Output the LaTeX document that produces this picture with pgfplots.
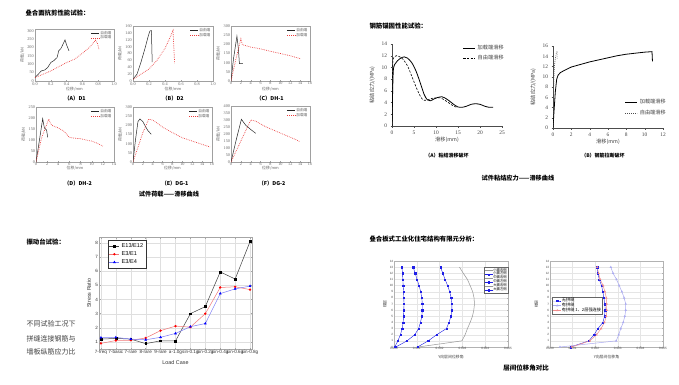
\documentclass[border=0pt]{standalone}
\usepackage{fontspec}
\setmainfont{Liberation Serif}
\setsansfont{Liberation Sans}
\newfontfamily\cjk{Noto Sans CJK SC}
\usepackage{pgfplots}
\pgfplotsset{compat=1.18}
\definecolor{redd}{RGB}{235,60,60}
\definecolor{axgray}{RGB}{160,160,160}
\definecolor{txtgray}{RGB}{100,100,100}
\definecolor{bblue}{RGB}{30,30,230}
\definecolor{lred}{RGB}{240,120,120}
\definecolor{lblue}{RGB}{120,120,245}
\definecolor{lav}{RGB}{170,170,240}
\definecolor{pinky}{RGB}{240,140,140}
\definecolor{gline}{RGB}{150,150,150}
\newcommand{\fs}[1]{\fontsize{#1}{#1}\selectfont}
\pgfplotsset{
  /pgf/number format/assume math mode=true,
  every axis/.append style={scale only axis, anchor=north west},
  smallc/.style={
    width=79pt, height=55pt, xmin=0, ymin=0,
    axis line style={axgray, line width=0.4pt},
    every tick/.style={axgray, line width=0.3pt},
    major tick length=1.2pt,
    xtick pos=left, ytick pos=left,
    tick label style={font=\fs{4.2}, text=txtgray, inner sep=0.8pt},
    xlabel={位移/mm}, ylabel={荷载/kN},
    label style={font=\cjk\fs{3.9}, text=txtgray},
    xlabel style={at={(axis description cs:0.5,-0.15)}, anchor=center},
    ylabel style={at={(axis description cs:-0.16,0.5)}, anchor=center},
    legend style={draw=none, fill=none, font=\cjk\fs{3.7}, text=txtgray,
      at={(0.98,0.98)}, anchor=north east, inner sep=0.3pt,
      nodes={inner sep=0.5pt}, row sep=-0.8pt},
    legend cell align=left,
    legend image code/.code={\draw[##1] (0pt,0pt) -- (8pt,0pt);},
  },
  blk/.style={black!85, line width=0.5pt},
  rdd/.style={redd, dash pattern=on 0.7pt off 1.1pt, line width=0.7pt},
  trc/.style={
    width=110pt, height=82pt, xmin=0, ymin=0,
    axis x line*=bottom, axis y line*=left,
    axis line style={black!70, line width=0.4pt, -},
    tick align=outside, major tick length=1.5pt,
    every tick/.style={black!70, line width=0.3pt},
    tick label style={font=\fs{5.4}, text=black!75},
    xlabel={滑移(mm)}, ylabel={粘结应力/(MPa)},
    label style={font=\cjk\fs{5.2}, text=black!75},
    xlabel style={at={(axis description cs:0.5,-0.17)}, anchor=center},
    ylabel style={at={(axis description cs:-0.18,0.5)}, anchor=center},
    legend style={draw=none, fill=none, font=\cjk\fs{5.2}, text=black!75,
      inner sep=0.5pt, row sep=0.5pt},
    legend cell align=left,
    legend image code/.code={\draw[##1] (0pt,0pt) -- (12pt,0pt);},
  },
  brc/.style={
    width=114pt, height=86pt,
    xmin=0, xmax=0.005, ymin=0, ymax=14,
    scaled x ticks=false,
    xtick={0,0.001,0.002,0.003,0.004,0.005},
    xticklabels={0.000,0.001,0.002,0.003,0.004,0.005},
    ytick={0,1,...,14},
    grid=major, grid style={gray!20, line width=0.3pt},
    axis line style={gray!60, line width=0.4pt},
    every tick/.style={gray!60},
    major tick length=1pt,
    tick label style={font=\sffamily\fs{3.1}, text=black!70, inner sep=0.6pt},
    xlabel={Y向层间位移角}, ylabel={楼层},
    label style={font=\cjk\fs{3.9}, text=black!75},
    xlabel style={at={(axis description cs:0.5,-0.12)}, anchor=center},
    legend style={draw=black!60, line width=0.3pt, fill=white, font=\cjk\fs{3.4},
      inner sep=0.6pt, nodes={inner sep=0.4pt}, row sep=-1.2pt},
    legend cell align=left,
    legend image code/.code={\draw[mark repeat=2,mark phase=2,##1] plot coordinates {(0pt,0pt) (4pt,0pt) (8pt,0pt)};},
  },
}
\begin{document}
\begin{tikzpicture}
\path[use as bounding box, fill=white] (0pt,0pt) rectangle (679pt,384pt);

% ---------------- Top-left block ----------------
\node[anchor=west, font=\cjk\bfseries\fs{6.4}] at (22pt,371pt) {叠合面抗剪性能试验：};

% (A) D1
\begin{axis}[smallc, at={(35pt,355pt)}, height=52pt, xmax=1.0, ymax=310,
  xtick={0,0.2,0.4,0.6,0.8,1.0}, ytick={0,50,...,300},
  xticklabel style={yshift=-0.9pt, /pgf/number format/.cd,fixed,fixed zerofill,precision=1},
  yticklabel style={xshift=-0.3pt}]
\addplot[blk] coordinates {(0,20) (0.04,40) (0.08,60) (0.12,65) (0.16,80) (0.2,110) (0.24,122) (0.28,140) (0.3,180) (0.33,195) (0.38,245) (0.4,215) (0.43,180)};
\addlegendentry{自由端}
\addplot[rdd] coordinates {(0,20) (0.1,40) (0.2,60) (0.3,85) (0.4,110) (0.5,130) (0.6,165) (0.7,205) (0.765,243) (0.79,225) (0.81,188)};
\addlegendentry{加载端}
\end{axis}
\node[font=\cjk\bfseries\fs{5.3}] at (75pt,286pt) {（A）D1};

% (B) D2
\begin{axis}[smallc, at={(133pt,358pt)}, width=80pt, xmax=1.0, ymax=160,
  xtick={0,0.2,0.4,0.6,0.8,1.0}, ytick={0,20,...,160},
  xticklabel style={yshift=-0.9pt, /pgf/number format/.cd,fixed,fixed zerofill,precision=1},
  yticklabel style={xshift=-0.3pt},
  xlabel style={at={(axis description cs:0.5,-0.15)}}]
\addplot[blk] coordinates {(0,5) (0.05,20) (0.1,55) (0.15,95) (0.19,130) (0.21,145) (0.23,147) (0.24,55)};
\addlegendentry{自由端}
\addplot[rdd] coordinates {(0,5) (0.1,20) (0.2,35) (0.3,60) (0.4,95) (0.46,125) (0.5,147) (0.51,100) (0.52,52)};
\addlegendentry{加载端}
\end{axis}
\node[font=\cjk\bfseries\fs{5.3}] at (173pt,286pt) {（B）D2};

% (C) DH-1
\begin{axis}[smallc, at={(231pt,358pt)}, xmax=16, ymax=300,
  xtick={0,2,...,16}, ytick={0,50,...,300},
  xlabel style={at={(axis description cs:0.5,-0.14)}}]
\addplot[blk] coordinates {(0,0) (0.5,120) (1.2,245) (1.5,175) (1.7,95) (2.4,95)};
\addlegendentry{自由端}
\addplot[rdd] coordinates {(0,0) (1,120) (2,230) (2.3,198) (4,185) (6,175) (8,162) (10,150) (12,138) (14,122)};
\addlegendentry{加载端}
\end{axis}
\node[font=\cjk\bfseries\fs{5.3}] at (270pt,286pt) {（C）DH-1};

% (D) DH-2
\begin{axis}[smallc, at={(36pt,277pt)}, width=78pt, xmax=14, ymax=250,
  xtick={0,2,...,14}, ytick={0,50,...,250},
  xlabel style={at={(axis description cs:0.5,-0.11)}}]
\addplot[blk] coordinates {(0,0) (0.5,80) (1.2,197) (1.5,155) (1.9,145) (2.1,112)};
\addlegendentry{自由端}
\addplot[rdd] coordinates {(0,0) (1,110) (2.3,195) (2.6,175) (3,165) (4,155) (5,140) (6,112) (7,108) (8,106) (9,100) (10,95) (11,85) (12,72)};
\addlegendentry{加载端}
\end{axis}
\node[font=\cjk\bfseries\fs{5.3}] at (78pt,201pt) {（D）DH-2};

% (E) DG-1
\begin{axis}[smallc, at={(133pt,277pt)}, xmax=16, ymax=300,
  xtick={0,2,...,16}, ytick={0,50,...,300},
  xlabel style={at={(axis description cs:0.5,-0.11)}}]
\addplot[blk] coordinates {(0,0) (0.5,120) (1,220) (1.4,235) (2,220) (2.5,195) (3,172) (3.7,151)};
\addlegendentry{自由端}
\addplot[rdd] coordinates {(0,0) (1,80) (2,160) (3.2,234) (4,228) (5,210) (6,190) (8,160) (10,132) (12,114) (14,96) (15.6,82)};
\addlegendentry{加载端}
\end{axis}
\node[font=\cjk\bfseries\fs{5.3}] at (175pt,201pt) {（E）DG-1};

% (F) DG-2
\begin{axis}[smallc, at={(231pt,278pt)}, height=56pt, xmax=16, ymax=400,
  xtick={0,2,...,16}, ytick={0,50,...,400},
  xlabel style={at={(axis description cs:0.5,-0.11)}}]
\addplot[blk] coordinates {(0,0) (1,150) (2.1,305) (3,262) (4,232) (5,205)};
\addlegendentry{自由端}
\addplot[rdd] coordinates {(0,0) (2,150) (4,300) (5,292) (7,252) (9,222) (11,192) (13,162) (14,145)};
\addlegendentry{加载端}
\end{axis}
\node[font=\cjk\bfseries\fs{5.3}] at (272pt,201pt) {（F）DG-2};

\node[font=\cjk\bfseries\fs{6.2}] at (169pt,190pt) {试件荷载——滑移曲线};

% ---------------- Top-right block ----------------
\node[anchor=west, font=\cjk\bfseries\fs{6.4}] at (366pt,358pt) {钢筋锚固性能试验：};

\begin{axis}[trc, at={(392pt,340pt)}, xmax=25, ymax=14,
  xtick={0,5,...,25}, ytick={0,2,...,14},
  legend style={at={(1.04,1.02)}, anchor=north east}]
\addplot[black, line width=0.8pt, smooth, tension=0.5] coordinates {(0,0) (0.15,6) (0.3,9.5) (0.6,10.5) (1.2,11.1) (2,11.6) (2.8,11.8) (3.5,11.6) (4.5,10.8) (5.5,9.3) (6.5,7.2) (7.3,5.4) (8,4.5) (8.7,4.3) (9.5,4.6) (10.5,4.9) (11.3,5.0) (12,4.8) (13,4.3) (14,3.7) (15,3.25) (16,3.2) (17,3.4) (18,3.7) (19,3.8) (20,3.7) (21,3.4) (22,3.2) (23,3.2)};
\addlegendentry{加载端滑移}
\addplot[black, line width=0.6pt, dash pattern=on 2.2pt off 1.5pt, smooth, tension=0.5] coordinates {(0,0) (0.1,8) (0.2,11) (0.5,11.8) (1,12) (1.8,11.8) (2.5,11.4) (3.5,10.3) (4.5,8.5) (5.5,6.6) (6.5,5) (7.2,4.4) (8,4.4) (9,4.7) (10,4.8) (11,4.8) (12,4.4) (13,3.9) (14,3.4) (14.8,3.2)};
\addlegendentry{自由端滑移}
\end{axis}
\node[font=\cjk\bfseries\fs{5}] at (447pt,228pt) {（A）粘结滑移破坏};

\begin{axis}[trc, at={(553pt,338pt)}, xmax=12, ymax=16,
  xtick={0,2,...,12}, ytick={0,2,...,16},
  legend style={at={(1.05,0.38)}, anchor=north east}]
\addplot[black, line width=0.8pt] coordinates {(0,0) (0.1,3) (0.25,7) (0.4,9.5) (0.55,10.3) (0.8,10.8) (1.2,11.2) (2,11.9) (3,12.4) (4,12.9) (5,13.3) (6,13.7) (7,14.1) (8,14.4) (9,14.6) (10,14.8) (10.8,14.9) (10.85,13)};
\addlegendentry{加载端滑移}
\addplot[black!70, line width=0.6pt, dash pattern=on 0.8pt off 1.2pt] coordinates {(0,0) (0.05,6) (0.1,10) (0.15,12) (0.25,13.5) (0.35,14.5) (0.45,15) (0.45,13.3)};
\addlegendentry{自由端滑移}
\end{axis}
\node[font=\cjk\bfseries\fs{5}] at (603pt,228pt) {（B）钢筋拉断破坏};

\node[font=\cjk\bfseries\fs{6.2}] at (518pt,206pt) {试件粘结应力——滑移曲线};

% ---------------- Bottom-left block ----------------
\node[anchor=west, font=\cjk\bfseries\fs{6.4}] at (23pt,142pt) {振动台试验：};
\node[anchor=west, font=\cjk\fs{7}, text=black!75] at (23pt,60pt) {不同试验工况下};
\node[anchor=west, font=\cjk\fs{7}, text=black!75] at (23pt,45pt) {拼缝连接钢筋与};
\node[anchor=west, font=\cjk\fs{7}, text=black!75] at (23pt,32pt) {墙板纵筋应力比};

\begin{axis}[at={(99pt,147pt)}, width=153pt, height=112pt,
  xmin=-0.13, xmax=10.13, ymin=0.5, ymax=8.42,
  xtick={0,...,10},
  xticklabels={7-freq,7-basic,7-rare,8-rare,9-rare,a-1.0g,sin-0.1g,sin-0.2g,sin-0.4g,sin-0.6g,sin-0.8g},
  ytick={1,...,8},
  grid=major, grid style={gray!25, line width=0.3pt},
  axis line style={gray!70, line width=0.5pt},
  every tick/.style={gray!70}, major tick length=1.5pt,
  tick label style={font=\sffamily\fs{4.6}, text=black!80, inner sep=0.8pt},
  xlabel={Load Case}, ylabel={Stress Ratio},
  label style={font=\sffamily\fs{5.4}, text=black!80},
  xlabel style={at={(axis description cs:0.5,-0.12)}, anchor=center},
  ylabel style={at={(axis description cs:-0.065,0.5)}, anchor=center},
  legend style={draw=black!80, line width=0.4pt, font=\sffamily\fs{5.6},
    at={(0.06,0.97)}, anchor=north west, inner sep=0.8pt, row sep=-1.5pt},
  legend cell align=left,
  legend image code/.code={\draw[mark repeat=2,mark phase=2,#1] plot coordinates {(0pt,0pt) (5pt,0pt) (10pt,0pt)};}]
\addplot[black!75, line width=0.5pt, mark=square*, mark size=0.9pt, mark options={black, fill=black}] coordinates {(0,1.2) (1,1.25) (2,1.2) (3,0.88) (4,1.08) (5,1.07) (6,3.0) (7,3.5) (8,5.95) (9,5.45) (10,8.1)};
\addlegendentry{E13/E12}
\addplot[lred, line width=0.5pt, mark=*, mark size=0.9pt, mark options={red, fill=red}] coordinates {(0,0.9) (1,1.1) (2,1.12) (3,1.28) (4,1.8) (5,2.12) (6,2.05) (7,3.0) (8,4.85) (9,4.9) (10,4.7)};
\addlegendentry{E3/E1}
\addplot[lblue, line width=0.5pt, mark=triangle*, mark size=1.1pt, mark options={blue, fill=blue}] coordinates {(0,1.3) (1,1.32) (2,1.2) (3,1.15) (4,1.33) (5,1.6) (6,2.08) (7,2.3) (8,4.42) (9,4.75) (10,4.95)};
\addlegendentry{E3/E4}
\end{axis}

% ---------------- Bottom-right block ----------------
\node[anchor=west, font=\cjk\bfseries\fs{6.4}] at (366pt,145pt) {叠合板式工业化住宅结构有限元分析：};

\begin{axis}[brc, at={(394pt,123pt)},
  ylabel style={at={(axis description cs:-0.08,0.5)}, anchor=center},
  legend style={at={(1,0.93)}, anchor=north east}]
\addlegendimage{gline, line width=0.4pt}
\addlegendentry{小震右侧}
\addplot[bblue, line width=0.4pt, mark=square*, mark size=0.6pt] coordinates {(0.00003,0) (0.00017,1) (0.00028,2) (0.00036,3) (0.0004,4) (0.00042,5) (0.00043,6) (0.00044,7) (0.00043,8) (0.00042,9) (0.0004,10) (0.00039,11) (0.00037,12) (0.00035,13)};
\addlegendentry{小震左侧}
\addlegendimage{gline, line width=0.4pt}
\addlegendentry{中震右侧}
\addplot[bblue, line width=0.4pt, mark=square*, mark size=0.6pt] coordinates {(0.00008,0) (0.00057,1) (0.00091,2) (0.00108,3) (0.00116,4) (0.00122,5) (0.00124,6) (0.00124,7) (0.00122,8) (0.00117,9) (0.0011,10) (0.00101,11) (0.00093,12) (0.00084,13)};
\addlegendentry{中震左侧}
\addplot[gline, line width=0.5pt] coordinates {(0.00105,0) (0.00298,1) (0.00312,2) (0.00322,3) (0.00334,4) (0.00344,5) (0.0035,6) (0.00353,7) (0.00351,8) (0.00345,9) (0.00334,10) (0.00322,11) (0.00304,12) (0.00287,13)};
\addlegendentry{大震右侧}
\addplot[bblue, line width=0.4pt, mark=square*, mark size=0.6pt] coordinates {(0.00103,0) (0.0015,1) (0.00187,2) (0.0023,3) (0.00241,4) (0.0025,5) (0.00254,6) (0.00254,7) (0.00251,8) (0.00244,9) (0.00235,10) (0.00224,11) (0.00214,12) (0.00204,13)};
\addlegendentry{大震左侧}
\end{axis}

\begin{axis}[brc, at={(550pt,123pt)}, width=113pt,
  ylabel style={at={(axis description cs:-0.12,0.5)}, anchor=center},
  legend style={at={(0.02,0.58)}, anchor=north west, font=\cjk\fs{4.2}, row sep=-1pt}]
\addplot[bblue, line width=0.4pt, mark=square*, mark size=0.7pt] coordinates {(0.00091,0) (0.00172,1) (0.00195,2) (0.00212,3) (0.00234,4) (0.00241,5) (0.00244,6) (0.00243,7) (0.00238,8) (0.00234,9) (0.00228,10) (0.00218,11) (0.00212,12) (0.00209,13)};
\addlegendentry{无拼缝}
\addplot[lav, line width=0.5pt, mark=triangle, mark size=0.9pt] coordinates {(0.00044,0) (0.00293,1) (0.00304,2) (0.00313,3) (0.00324,4) (0.00331,5) (0.00335,6) (0.00335,7) (0.00328,8) (0.00318,9) (0.00306,10) (0.00294,11) (0.00279,12) (0.00269,13)};
\addlegendentry{有拼缝}
\addplot[pinky, line width=0.5pt, mark=triangle, mark size=0.9pt] coordinates {(0.00096,0) (0.00176,1) (0.00206,2) (0.00226,3) (0.00241,4) (0.00249,5) (0.00251,6) (0.00251,7) (0.00249,8) (0.00243,9) (0.00235,10) (0.00222,11) (0.00215,12) (0.00209,13)};
\addlegendentry{有拼缝 1、2层强连接}
\end{axis}

\node[font=\cjk\bfseries\fs{6.5}] at (526pt,16pt) {层间位移角对比};
\end{tikzpicture}
\end{document}
